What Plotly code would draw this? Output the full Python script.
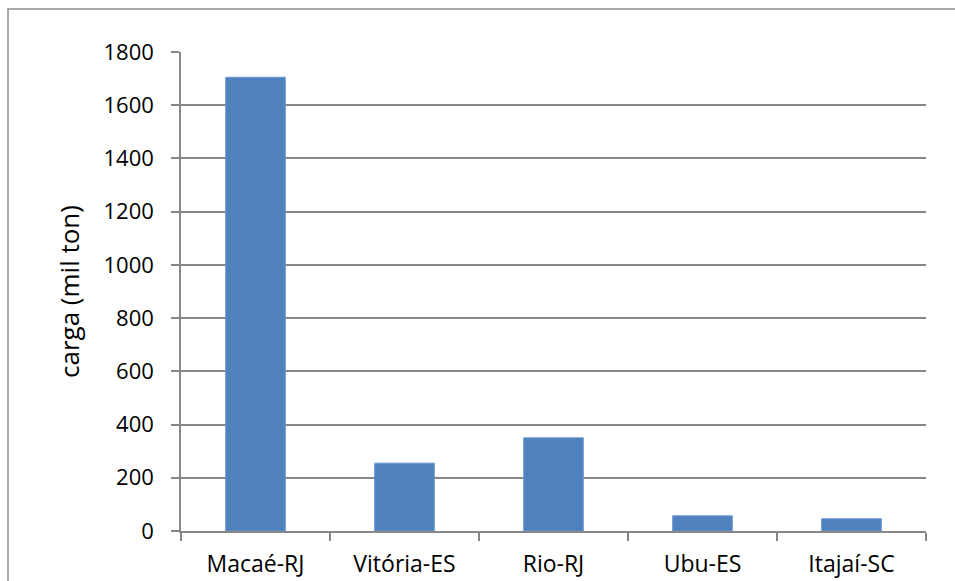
import plotly.graph_objects as go

# Cargo handled per port (thousand tonnes)
portos = ["Macaé-RJ", "Vitória-ES", "Rio-RJ", "Ubu-ES", "Itajaí-SC"]
carga = [1705, 255, 350, 57, 46]
y_ticks = [0, 200, 400, 600, 800, 1000, 1200, 1400, 1600, 1800]

W, H = 955, 581
L, R, T, B = 181, 29, 52, 50
pw, ph = W - L - R, H - T - B

fig = go.Figure(go.Bar(
    x=portos, y=carga,
    marker=dict(color="#4F81BD", line=dict(color="#6A96CF", width=1)),
))

grey = "#878787"
fig.update_layout(
    width=W, height=H,
    margin=dict(l=L, r=R, t=T, b=B, pad=0),
    paper_bgcolor="white", plot_bgcolor="white",
    bargap=0.6,
    showlegend=False,
    font=dict(family="Open Sans", color="black"),
    xaxis=dict(
        type="category",
        automargin=False,
        showgrid=False,
        showline=True, linecolor=grey, linewidth=1.5,
        ticks="outside", tickson="boundaries", ticklen=8,
        tickcolor=grey, tickwidth=1.5,
        tickfont=dict(size=23, family="Open Sans", color="black"),
        ticklabelstandoff=12,
    ),
    yaxis=dict(
        range=[0, 1800],
        tickvals=y_ticks,
        automargin=False,
        showgrid=True, gridcolor=grey, gridwidth=1.5,
        showline=True, linecolor=grey, linewidth=1.5,
        ticks="outside", ticklen=8, tickcolor=grey, tickwidth=1.5,
        tickfont=dict(size=22, family="Open Sans", color="black"),
        ticklabelstandoff=13,
        zeroline=False,
        title=dict(text="carga (mil ton)", standoff=16,
                   font=dict(size=26, family="Open Sans", color="black")),
    ),
)

# Chart frame (extends beyond the right and bottom page edges)
fig.add_shape(
    type="rect", xref="paper", yref="paper",
    x0=(8 - L) / pw, x1=(W + 10 - L) / pw,
    y0=-(B + 10) / ph, y1=(H - 9 - B) / ph,
    line=dict(color="#8C8C8C", width=1.5), fillcolor="rgba(0,0,0,0)",
    layer="below",
)

fig.write_html("out.html")
